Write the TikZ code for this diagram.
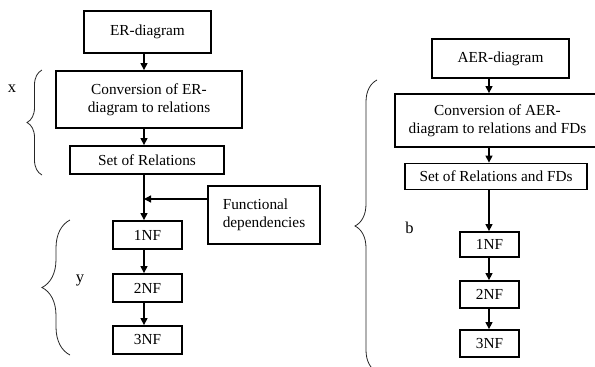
\documentclass[tikz,border=0pt]{standalone}
\usepackage{fontspec}
\setmainfont{Liberation Serif}
\usetikzlibrary{arrows.meta,decorations.pathreplacing}

\tikzset{
  box/.style={draw, line width=1.8pt, inner sep=0pt, align=center,
              font=\fontsize{15.3}{18}\selectfont},
  arr/.style={line width=1.3pt, -{Triangle[length=7pt,width=7pt]}},
  curly/.style={decorate, decoration={brace, amplitude=#1},
                line width=0.8pt, black!85},
  lbl/.style={font=\fontsize{16.5}{18}\selectfont, inner sep=0pt},
}

\begin{document}
\begin{tikzpicture}[x=1pt,y=-1pt]
  \useasboundingbox (0,0) rectangle (595,367);
  \coordinate (laxis) at (144,0);
  \coordinate (raxis) at (489,0);
  % ER flow
  \node[box, minimum width=127pt, minimum height=42pt] (er) at (147.5,32) {ER-diagram};
  \node[box, minimum width=186pt, minimum height=57pt] (conv) at (149,99.5)
       {Conversion of ER-\\diagram to relations};
  \node[box, minimum width=154pt, minimum height=28pt] (rel) at (147,160) {Set of Relations};
  \node[box, minimum width=112pt, minimum height=58pt, align=left] (fd) at (264,215)
       {Functional\\dependencies};
  \node[box, minimum width=69pt, minimum height=28pt] (nf1) at (147.5,235) {1NF};
  \node[box, minimum width=69pt, minimum height=28pt] (nf2) at (147.5,288) {2NF};
  \node[box, minimum width=69pt, minimum height=28pt] (nf3) at (147.5,340) {3NF};
  \coordinate (join) at (144,199);
  \draw[arr] (er.south -| laxis) -- (conv.north -| laxis);
  \draw[arr] (conv.south -| laxis) -- (rel.north -| laxis);
  \draw[arr] (rel.south -| laxis) -- (nf1.north -| laxis);
  \draw[arr] (fd.west |- join) -- (join);
  \draw[arr] (nf1.south -| laxis) -- (nf2.north -| laxis);
  \draw[arr] (nf2.south -| laxis) -- (nf3.north -| laxis);
  % AER flow
  \node[box, minimum width=137pt, minimum height=39pt] (aer) at (500.5,58.5) {AER-diagram};
  \node[box, minimum width=205pt, minimum height=53pt] (aconv) at (497.5,120.5)
       {Conversion of AER-\\diagram to relations and FDs};
  \node[box, minimum width=182pt, minimum height=26pt] (arel) at (496,176.5)
       {Set of Relations and FDs};
  \node[box, minimum width=59pt, minimum height=25pt] (anf1) at (489.5,244.5) {1NF};
  \node[box, minimum width=59pt, minimum height=27pt] (anf2) at (489.5,294.5) {2NF};
  \node[box, minimum width=59pt, minimum height=27pt] (anf3) at (489.5,343.5) {3NF};
  \draw[arr] (aer.south -| raxis) -- (aconv.north -| raxis);
  \draw[arr] (aconv.south -| raxis) -- (arel.north -| raxis);
  \draw[arr] (arel.south -| raxis) -- (anf1.north -| raxis);
  \draw[arr] (anf1.south -| raxis) -- (anf2.north -| raxis);
  \draw[arr] (anf2.south -| raxis) -- (anf3.north -| raxis);
  % Braces
  \draw[curly=15pt] (42,175) -- (42,70);
  \draw[curly=28pt] (70,355) -- (70,220);
  \draw[curly=22pt] (377,372) -- (377,80);
  \node[lbl] (xlbl) at (12,89) {x};
  \node[lbl] (ylbl) at (80,280) {y};
  \node[lbl] (blbl) at (409.5,228) {b};
\end{tikzpicture}
\end{document}
